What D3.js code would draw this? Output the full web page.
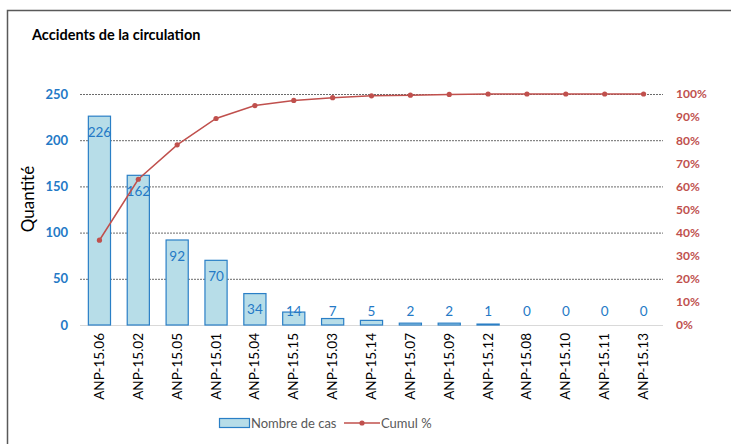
<!DOCTYPE html>
<html>
<head>
<meta charset="utf-8">
<script src="https://cdn.jsdelivr.net/npm/d3@7"></script>
<style>
body{margin:0;background:#fff;}
text{font-family:Lato,"Open Sans",sans-serif;}
</style>
</head>
<body>
<svg id="chart" width="731" height="444"></svg>
<script>
const categories = ["ANP-15.06","ANP-15.02","ANP-15.05","ANP-15.01","ANP-15.04","ANP-15.15","ANP-15.03","ANP-15.14","ANP-15.07","ANP-15.09","ANP-15.12","ANP-15.08","ANP-15.10","ANP-15.11","ANP-15.13"];
const cases = [226,162,92,70,34,14,7,5,2,2,1,0,0,0,0];
const cumulPct = [36.7,63.1,78.0,89.4,95.0,97.2,98.4,99.2,99.5,99.8,100,100,100,100,100];
const leftTicks = [0,50,100,150,200,250];
const rightTicks = [0,10,20,30,40,50,60,70,80,90,100];

const svg = d3.select("#chart");
const blue = "#2479c6", red = "#c0504d";

// border
svg.append("path").attr("d","M7.5,444 L7.5,10.5 L731,10.5").attr("fill","none").attr("stroke","#595959").attr("stroke-width",1.5);

svg.append("text").attr("x",32).attr("y",40).attr("font-size",14.5).attr("font-weight","bold").attr("fill","#000").text("Accidents de la circulation");

const x = d3.scaleBand().domain(categories).range([80,663]).paddingInner(0.43).paddingOuter(0.215);
const y = d3.scaleLinear().domain([0,250]).range([325,94]);
const yR = d3.scaleLinear().domain([0,100]).range([325,94]);

// gridlines
svg.append("g").selectAll("line").data(leftTicks.filter(d=>d>0)).join("line")
  .attr("x1",80).attr("x2",663).attr("y1",d=>y(d)+0.5).attr("y2",d=>y(d)+0.5)
  .attr("stroke","#6b6b6b").attr("stroke-width",1).attr("stroke-dasharray","2,1");

// baseline
svg.append("line").attr("x1",80).attr("x2",663).attr("y1",y(0)+0.5).attr("y2",y(0)+0.5).attr("stroke","#d9d9d9").attr("stroke-width",1.2);

// left axis labels
const gl = svg.append("g").attr("transform","translate(68,0)").call(d3.axisLeft(y).tickValues(leftTicks).tickSize(0).tickPadding(0));
gl.select(".domain").remove();
gl.selectAll("text").attr("font-size",13).attr("font-weight","bold").attr("fill",blue).attr("font-family","Lato,sans-serif");

// right axis labels
const gr = svg.append("g").attr("transform","translate(676,0)").call(d3.axisRight(yR).tickValues(rightTicks).tickSize(0).tickPadding(0).tickFormat(d=>d+"%"));
gr.select(".domain").remove();
gr.selectAll("text").attr("font-size",12).attr("font-weight","bold").attr("fill",red).attr("font-family","Lato,sans-serif");

// bars
svg.append("g").selectAll("rect").data(cases).join("rect")
  .attr("x",(d,i)=>x(categories[i])).attr("width",x.bandwidth())
  .attr("y",d=>y(d)).attr("height",d=>y(0)-y(d))
  .attr("fill","#b7dde8").attr("stroke","#2a7fc6").attr("stroke-width",1.2);

// bar labels
svg.append("g").selectAll("text").data(cases).join("text")
  .attr("x",(d,i)=>x(categories[i])+x.bandwidth()/2)
  .attr("y",d=>Math.min(y(d)+16, y(0)-14))
  .attr("dy","0.35em").attr("text-anchor","middle").attr("font-size",13.5).attr("fill",blue)
  .text(d=>d);

// cumulative line
const line = d3.line().x((d,i)=>x(categories[i])+x.bandwidth()/2).y(d=>yR(d));
svg.append("path").datum(cumulPct).attr("d",line).attr("fill","none").attr("stroke",red).attr("stroke-width",1.5);
svg.append("g").selectAll("circle").data(cumulPct).join("circle")
  .attr("cx",(d,i)=>x(categories[i])+x.bandwidth()/2).attr("cy",d=>yR(d)).attr("r",2.6).attr("fill",red);

// x labels
svg.append("g").selectAll("text").data(categories).join("text")
  .attr("transform",d=>`translate(${x(d)+x.bandwidth()/2+4.5},333) rotate(-90)`)
  .attr("text-anchor","end").attr("font-size",13.5).attr("fill","#000").text(d=>d);

// y title
svg.append("text").attr("transform","translate(34,199) rotate(-90)").attr("text-anchor","middle")
  .attr("font-size",17).attr("fill","#000").text("Quantité");

// legend
const lg = svg.append("g");
lg.append("rect").attr("x",219.5).attr("y",418.5).attr("width",30).attr("height",9).attr("fill","#b7dde8").attr("stroke","#2a7fc6").attr("stroke-width",1.2);
lg.append("text").attr("x",251).attr("y",428).attr("font-size",13).attr("fill","#595959").text("Nombre de cas");
lg.append("line").attr("x1",344).attr("x2",380).attr("y1",423).attr("y2",423).attr("stroke",red).attr("stroke-width",1.5);
lg.append("circle").attr("cx",362).attr("cy",423).attr("r",2.6).attr("fill",red);
lg.append("text").attr("x",381).attr("y",428).attr("font-size",13).attr("fill","#595959").text("Cumul %");
</script>
</body>
</html>
